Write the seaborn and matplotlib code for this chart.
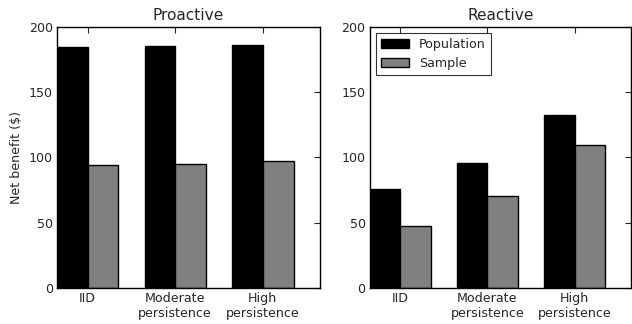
#!/usr/bin/env python

import numpy as np
import pandas as pd
import matplotlib
matplotlib.use('Agg')
import matplotlib.pyplot as plt
import seaborn as sns

# Values
SCENARIOS = ['IID', 'Moderate\npersistence', 'High\npersistence']
SERIES = ['Population', 'Sample']
PROACTIVE_POP = [184.7, 185.5, 186.0]
PROACTIVE_SAMPLE = [94.4, 94.9, 97.4]
REACTIVE_POP = [76.0, 95.9, 132.7]
REACTIVE_SAMPLE = [47.7, 70.7, 109.2]
PANELS = ['Proactive', 'Reactive']
YTICKS = [0, 50, 100, 150, 200]

COLORS = {'Population': '#000000', 'Sample': '#808080'}
FS = 9.1


def make_frame(pop, sample):
    return pd.DataFrame({
        'scenario': SCENARIOS * 2,
        'series': [SERIES[0]] * 3 + [SERIES[1]] * 3,
        'value': list(pop) + list(sample),
    })


def style_axis(ax):
    ax.set_ylim(0, 200)
    ax.set_yticks(YTICKS)
    ax.set_xlim(-0.35, 2.65)
    ax.tick_params(direction='in', top=True, right=True, length=4,
                   width=0.8, labelsize=FS, pad=3)
    for sp in ax.spines.values():
        sp.set_visible(True)
        sp.set_color('black')
        sp.set_linewidth(1.0)
    ax.set_xlabel('')


def main():
    sns.set_style('white')
    plt.rcParams['font.family'] = ['DejaVu Sans']

    fig = plt.figure(figsize=(6.32, 3.24), dpi=100)
    ax1 = fig.add_axes([0.090, 0.111, 0.416, 0.807])
    ax2 = fig.add_axes([0.585, 0.111, 0.414, 0.807])

    frames = [make_frame(PROACTIVE_POP, PROACTIVE_SAMPLE),
              make_frame(REACTIVE_POP, REACTIVE_SAMPLE)]

    for ax, df, title in zip([ax1, ax2], frames, PANELS):
        sns.barplot(data=df, x='scenario', y='value', hue='series',
                    palette=COLORS, edgecolor='black', linewidth=1.0,
                    width=0.7, gap=0, saturation=1, ax=ax)
        style_axis(ax)
        ax.set_title(title, fontsize=11.1, pad=5)
        ax.get_legend().remove()

    ax1.set_ylabel('Net benefit ($)', fontsize=FS)
    ax2.set_ylabel('')

    handles, labels = ax2.get_legend_handles_labels()
    leg = ax2.legend(handles, labels, loc='upper left', fontsize=FS,
                     frameon=True, fancybox=False, handlelength=2.2,
                     borderaxespad=0.5, handletextpad=0.8)
    leg.get_frame().set_edgecolor('black')
    leg.get_frame().set_linewidth(0.8)

    fig.savefig('out.png', dpi=100)


if __name__ == '__main__':
    main()
